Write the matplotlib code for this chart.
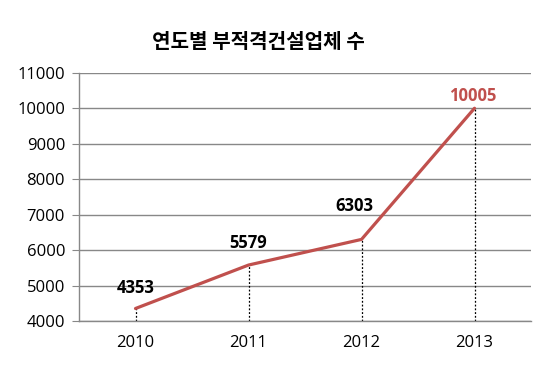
import matplotlib
matplotlib.use("Agg")
import matplotlib.pyplot as plt

years = ["2010", "2011", "2012", "2013"]
counts = [4353, 5579, 6303, 10005]
yticks = [4000, 5000, 6000, 7000, 8000, 9000, 10000, 11000]
label_offsets_px = [(0, 20), (0, 22), (-7, 33), (-2, 12)]
label_colors = ["black", "black", "black", "#C0504D"]

plt.rcParams['font.family'] = ['Open Sans', 'Noto Sans CJK KR', 'DejaVu Sans']

fig = plt.figure(figsize=(5.6, 3.9), dpi=100)
ax = fig.add_axes([79/560, 69/390, 452/560, 248/390])

x = list(range(len(years)))
ax.set_xlim(-0.5, len(years) - 0.5)
ax.set_ylim(yticks[0], yticks[-1])
ax.set_yticks(yticks)
ax.set_yticklabels([str(v) for v in yticks], fontsize=12)
ax.set_xticks(x)
ax.set_xticklabels(years, fontsize=12)
ax.tick_params(axis='x', length=0, pad=10)
ax.tick_params(axis='y', length=5, color='#888888', pad=5)

ax.grid(axis='y', color='#888888', linewidth=1)
ax.set_axisbelow(True)
for s in ['top', 'right']:
    ax.spines[s].set_visible(False)
for s in ['left', 'bottom']:
    ax.spines[s].set_color('#888888')
    ax.spines[s].set_linewidth(1)

ax.vlines(x, yticks[0], counts, colors='black', linestyles=(0, (1.5, 1.5)), linewidth=0.9, zorder=2)
ax.plot(x, counts, color='#C0504D', linewidth=2.3, solid_capstyle='round', zorder=3)

for xi, v, (dx, dy), c in zip(x, counts, label_offsets_px, label_colors):
    ax.annotate(str(v), (xi, v), xytext=(dx * 0.72, dy * 0.72), textcoords='offset points',
                ha='center', va='center', fontsize=12, fontweight='bold', color=c)

fig.text(258/560, 1 - 42/390, "연도별 부적격건설업체 수", ha='center', va='center',
         fontsize=14.5, fontweight='bold', family=['Noto Sans CJK KR', 'DejaVu Sans'])

fig.savefig("out.png", dpi=100)
